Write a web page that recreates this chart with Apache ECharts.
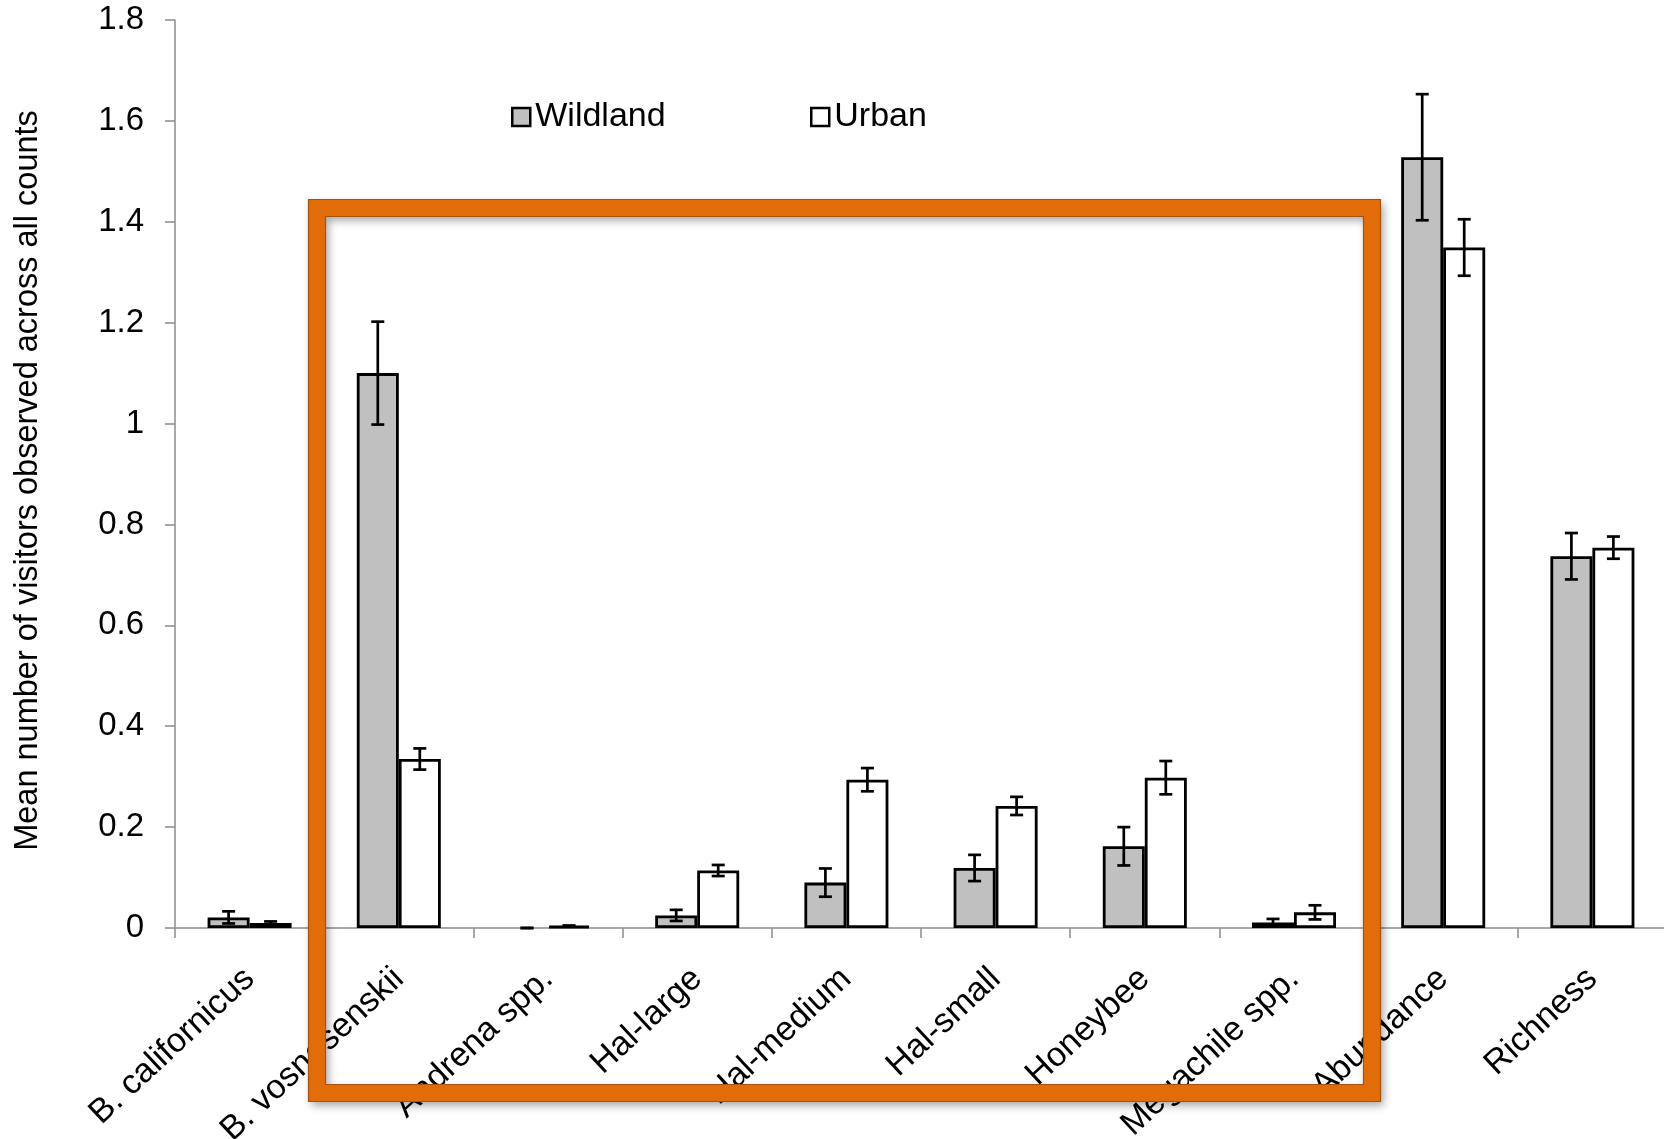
<!DOCTYPE html>
<html>
<head>
<meta charset="utf-8">
<script src="https://cdn.jsdelivr.net/npm/echarts@6/dist/echarts.min.js"></script>
<style>
html,body{margin:0;padding:0;background:#fff;}
#chart{width:1664px;height:1139px;}
</style>
</head>
<body>
<div id="chart"></div>
<script>
const categories = ['B. californicus','B. vosnesenskii','Andrena spp.','Hal-large','Hal-medium','Hal-small','Honeybee','Megachile spp.','Abundance','Richness'];
const wildland    = [0.021, 1.100, 0.000, 0.025, 0.090, 0.119, 0.162, 0.011, 1.528, 0.737];
const wildlandErr = [0.012, 0.102, 0.000, 0.011, 0.028, 0.026, 0.038, 0.007, 0.125, 0.046];
const urban       = [0.010, 0.335, 0.004, 0.114, 0.294, 0.242, 0.298, 0.031, 1.349, 0.754];
const urbanErr    = [0.003, 0.021, 0.001, 0.011, 0.023, 0.018, 0.033, 0.014, 0.056, 0.022];
const yTicks = { min: 0, max: 1.8, interval: 0.2 };

const FONT = 'Liberation Sans, Arial, Helvetica, sans-serif';
const BAR_W = 42;
const GRAY = '#c0c0c0';

function barData(vals) {
  return vals.map(v => v === 0 ? { value: v, itemStyle: { borderWidth: 0 } } : v);
}
function errData(vals, errs) {
  return vals.map((v, i) => [i, v, errs[i]]);
}
function errRender(offset) {
  return function (params, api) {
    const i = api.value(0), v = api.value(1), e = api.value(2);
    const hi = api.coord([i, v + e]);
    const lo = api.coord([i, Math.max(0, v - e)]);
    const x = hi[0] + offset;
    const cap = 6.5;
    const st = { stroke: '#000', lineWidth: 2.7 };
    return {
      type: 'group',
      children: [
        { type: 'line', shape: { x1: x, y1: hi[1], x2: x, y2: lo[1] }, style: st },
        { type: 'line', shape: { x1: x - cap, y1: hi[1], x2: x + cap, y2: hi[1] }, style: st },
        { type: 'line', shape: { x1: x - cap, y1: lo[1], x2: x + cap, y2: lo[1] }, style: st }
      ]
    };
  };
}

const chart = echarts.init(document.getElementById('chart'), null, { renderer: 'canvas' });
chart.setOption({
  animation: false,
  backgroundColor: '#fff',
  textStyle: { fontFamily: FONT },
  grid: { left: 175, top: 20, width: 1492, bottom: 211, containLabel: false, outerBoundsMode: 'none' },
  legend: [
    {
      left: 506, top: 95, itemWidth: 18, itemHeight: 18, selectedMode: false,
      textStyle: { fontSize: 34, color: '#000', fontFamily: FONT },
      data: [{ name: 'Wildland', icon: 'rect', itemStyle: { color: GRAY, borderColor: '#000', borderWidth: 2.5 } }]
    },
    {
      left: 805, top: 95, itemWidth: 18, itemHeight: 18, selectedMode: false,
      textStyle: { fontSize: 34, color: '#000', fontFamily: FONT },
      data: [{ name: 'Urban', icon: 'rect', itemStyle: { color: '#fff', borderColor: '#000', borderWidth: 2.5 } }]
    }
  ],
  xAxis: {
    type: 'category',
    data: categories,
    axisLine: { lineStyle: { color: '#8c8c8c', width: 1.5 } },
    axisTick: { show: true, length: 10, lineStyle: { color: '#8c8c8c', width: 1.5 } },
    axisLabel: { interval: 0, rotate: 43, margin: 46, fontSize: 34, color: '#000', fontFamily: FONT }
  },
  yAxis: {
    type: 'value',
    min: yTicks.min, max: yTicks.max, interval: yTicks.interval,
    name: 'Mean number of visitors observed across all counts',
    nameLocation: 'middle',
    nameGap: 130,
    nameTextStyle: { fontSize: 32.5, color: '#000', fontFamily: FONT, padding: [0, 13, 0, 0] },
    axisLine: { show: true, lineStyle: { color: '#8c8c8c', width: 1.5 } },
    axisTick: { show: true, length: 10, lineStyle: { color: '#8c8c8c', width: 1.5 } },
    splitLine: { show: false },
    axisLabel: { margin: 31, fontSize: 33, color: '#000', fontFamily: FONT }
  },
  series: [
    {
      name: 'Wildland', type: 'bar', barWidth: BAR_W, barGap: '0%',
      itemStyle: { color: GRAY, borderColor: '#000', borderWidth: 2.8 },
      data: barData(wildland), z: 2
    },
    {
      name: 'Urban', type: 'bar', barWidth: BAR_W, barGap: '0%',
      itemStyle: { color: '#fff', borderColor: '#000', borderWidth: 2.8 },
      data: barData(urban), z: 2
    },
    {
      name: 'WildlandErr', type: 'custom', renderItem: errRender(-BAR_W / 2),
      data: errData(wildland, wildlandErr), encode: { x: 0, y: 1 }, z: 5, silent: true
    },
    {
      name: 'UrbanErr', type: 'custom', renderItem: errRender(BAR_W / 2),
      data: errData(urban, urbanErr), encode: { x: 0, y: 1 }, z: 5, silent: true
    }
  ],
  graphic: [
    {
      type: 'rect', z: 100, silent: true,
      shape: { x: 317, y: 208, width: 1055, height: 885 },
      style: { fill: null, stroke: '#e36c0a', lineWidth: 17,
               shadowBlur: 8, shadowColor: 'rgba(0,0,0,0.35)', shadowOffsetX: 3, shadowOffsetY: 4 }
    },
    {
      type: 'rect', z: 101, silent: true,
      shape: { x: 308.5, y: 199.5, width: 1072, height: 902 },
      style: { fill: null, stroke: '#a8520c', lineWidth: 1.2 }
    },
    {
      type: 'rect', z: 101, silent: true,
      shape: { x: 325.5, y: 216.5, width: 1038, height: 868 },
      style: { fill: null, stroke: '#a8520c', lineWidth: 1.2 }
    }
  ]
});
</script>
</body>
</html>
